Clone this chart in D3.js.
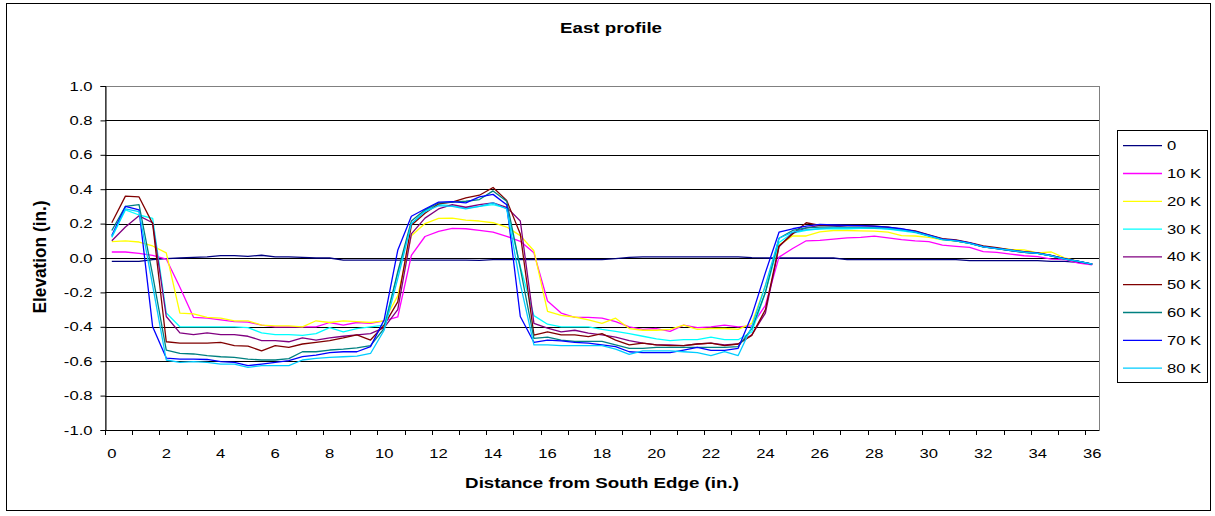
<!DOCTYPE html>
<html>
<head>
<meta charset="utf-8">
<script src="https://cdn.jsdelivr.net/npm/d3@7"></script>
<style>
  html, body { margin: 0; padding: 0; background: #fff; }
  svg { display: block; font-family: "Liberation Sans", Arial, sans-serif; }
</style>
</head>
<body>
<svg id="chart" width="1215" height="516"></svg>
<script>
// Distance from the south edge, in inches (category axis, half-inch steps)
const distances = [
  0, 0.5, 1, 1.5, 2, 2.5, 3, 3.5, 4, 4.5, 5, 5.5, 6, 6.5, 7, 7.5, 8, 8.5, 9, 9.5,
  10, 10.5, 11, 11.5, 12, 12.5, 13, 13.5, 14, 14.5, 15, 15.5, 16, 16.5, 17, 17.5,
  18, 18.5, 19, 19.5, 20, 20.5, 21, 21.5, 22, 22.5, 23, 23.5, 24, 24.5, 25, 25.5,
  26, 26.5, 27, 27.5, 28, 28.5, 29, 29.5, 30, 30.5, 31, 31.5, 32, 32.5, 33, 33.5,
  34, 34.5, 35, 35.5, 36
];

const seriesNames = ["0", "10 K", "20 K", "30 K", "40 K", "50 K", "60 K", "70 K", "80 K"];
const seriesColors = ["#000080", "#FF00FF", "#FFFF00", "#00FFFF", "#800080", "#800000", "#008080", "#0000FF", "#00CCFF"];

const yTicks = [-1.0, -0.8, -0.6, -0.4, -0.2, 0.0, 0.2, 0.4, 0.6, 0.8, 1.0];
const xTickLabels = ["0", "2", "4", "6", "8", "10", "12", "14", "16", "18", "20", "22", "24", "26", "28", "30", "32", "34", "36"];

// Elevation (in.) per load step
const elev0 = [
  -0.02, -0.02, -0.02, -0.01, -0.004, 0.0, 0.004, 0.006, 0.014, 0.014,
  0.01, 0.016, 0.006, 0.006, 0.004, 0.0, 0.0, -0.012, -0.012, -0.012,
  -0.012, -0.012, -0.012, -0.012, -0.012, -0.012, -0.012, -0.014, -0.01, -0.01,
  -0.01, -0.01, -0.01, -0.01, -0.01, -0.01, -0.01, -0.004, 0.004, 0.006,
  0.006, 0.006, 0.006, 0.006, 0.006, 0.006, 0.006, 0.002, 0.0, 0.0,
  0.0, 0.0, 0.0, 0.0, -0.01, -0.01, -0.01, -0.01, -0.01, -0.01,
  -0.01, -0.01, -0.01, -0.015, -0.015, -0.015, -0.015, -0.015, -0.015, -0.02,
  -0.02, -0.025, -0.035
];
const elev10K = [
  0.035, 0.035, 0.027, 0.015, -0.006, -0.17, -0.345, -0.35, -0.36, -0.37,
  -0.373, -0.39, -0.40, -0.40, -0.40, -0.40, -0.375, -0.39, -0.375, -0.38,
  -0.365, -0.343, 0.015, 0.125, 0.155, 0.172, 0.17, 0.16, 0.15, 0.126,
  0.097, 0.03, -0.25, -0.32, -0.345, -0.345, -0.35, -0.37, -0.40, -0.415,
  -0.41, -0.427, -0.39, -0.405, -0.40, -0.39, -0.40, -0.395, -0.275, 0.005,
  0.055, 0.10, 0.103, 0.11, 0.117, 0.12, 0.127, 0.117, 0.107, 0.10,
  0.095, 0.075, 0.068, 0.062, 0.037, 0.033, 0.023, 0.013, 0.008, -0.006,
  -0.01, -0.03, -0.04
];
const elev20K = [
  0.095, 0.10, 0.093, 0.07, 0.03, -0.32, -0.325, -0.345, -0.35, -0.365,
  -0.365, -0.39, -0.395, -0.395, -0.40, -0.365, -0.375, -0.365, -0.37, -0.375,
  -0.365, -0.22, 0.13, 0.20, 0.23, 0.232, 0.22, 0.215, 0.205, 0.18,
  0.13, 0.042, -0.31, -0.333, -0.343, -0.36, -0.38, -0.35, -0.41, -0.42,
  -0.42, -0.415, -0.39, -0.415, -0.41, -0.41, -0.415, -0.38, -0.16, 0.075,
  0.128, 0.128, 0.152, 0.16, 0.16, 0.158, 0.156, 0.15, 0.13, 0.128,
  0.12, 0.105, 0.098, 0.085, 0.068, 0.058, 0.05, 0.047, 0.03, 0.035,
  0.0, -0.02, -0.035
];
const elev30K = [
  0.12, 0.28, 0.25, 0.23, -0.32, -0.40, -0.40, -0.40, -0.40, -0.40,
  -0.405, -0.435, -0.445, -0.445, -0.45, -0.44, -0.405, -0.43, -0.41, -0.40,
  -0.39, -0.09, 0.195, 0.275, 0.31, 0.305, 0.29, 0.30, 0.31, 0.29,
  -0.05, -0.335, -0.385, -0.40, -0.40, -0.40, -0.415, -0.427, -0.44, -0.455,
  -0.47, -0.48, -0.475, -0.475, -0.46, -0.475, -0.475, -0.43, -0.2, 0.09,
  0.145, 0.16, 0.17, 0.17, 0.17, 0.172, 0.172, 0.168, 0.158, 0.148,
  0.127, 0.107, 0.1, 0.085, 0.065, 0.055, 0.045, 0.033, 0.027, 0.013,
  -0.006, -0.02, -0.035
];
const elev40K = [
  0.10, 0.18, 0.245, 0.205, -0.34, -0.435, -0.445, -0.435, -0.445, -0.445,
  -0.455, -0.48, -0.48, -0.487, -0.465, -0.477, -0.465, -0.455, -0.447, -0.44,
  -0.405, -0.30, 0.14, 0.232, 0.285, 0.31, 0.295, 0.31, 0.32, 0.295,
  0.215, -0.38, -0.408, -0.43, -0.42, -0.437, -0.447, -0.46, -0.48, -0.495,
  -0.505, -0.505, -0.51, -0.50, -0.495, -0.505, -0.50, -0.447, -0.32, 0.065,
  0.145, 0.175, 0.19, 0.185, 0.18, 0.18, 0.178, 0.175, 0.165, 0.152,
  0.13, 0.11, 0.1, 0.087, 0.065, 0.055, 0.043, 0.033, 0.027, 0.013,
  -0.006, -0.022, -0.035
];
const elev50K = [
  0.205, 0.36, 0.355, 0.20, -0.487, -0.495, -0.495, -0.495, -0.49, -0.51,
  -0.512, -0.54, -0.51, -0.52, -0.50, -0.49, -0.48, -0.465, -0.447, -0.477,
  -0.39, -0.255, 0.19, 0.26, 0.315, 0.325, 0.35, 0.365, 0.41, 0.335,
  0.14, -0.448, -0.43, -0.447, -0.447, -0.457, -0.44, -0.477, -0.505, -0.495,
  -0.505, -0.51, -0.51, -0.50, -0.495, -0.51, -0.50, -0.45, -0.30, 0.07,
  0.14, 0.205, 0.19, 0.19, 0.19, 0.19, 0.185, 0.18, 0.168, 0.158,
  0.135, 0.112, 0.105, 0.09, 0.07, 0.06, 0.047, 0.037, 0.03, 0.015,
  -0.005, -0.02, -0.035
];
const elev60K = [
  0.16, 0.30, 0.31, -0.10, -0.535, -0.555, -0.558, -0.568, -0.574, -0.578,
  -0.588, -0.593, -0.593, -0.585, -0.545, -0.545, -0.535, -0.53, -0.522, -0.51,
  -0.41, -0.08, 0.215, 0.28, 0.32, 0.325, 0.33, 0.34, 0.39, 0.33,
  -0.06, -0.467, -0.46, -0.477, -0.485, -0.485, -0.485, -0.505, -0.525, -0.525,
  -0.52, -0.52, -0.52, -0.52, -0.52, -0.52, -0.515, -0.41, -0.2, 0.115,
  0.16, 0.175, 0.18, 0.18, 0.178, 0.178, 0.175, 0.172, 0.165, 0.152,
  0.13, 0.108, 0.1, 0.085, 0.065, 0.055, 0.043, 0.033, 0.027, 0.013,
  -0.006, -0.02, -0.035
];
const elev70K = [
  0.13, 0.30, 0.28, -0.40, -0.582, -0.588, -0.588, -0.59, -0.603, -0.607,
  -0.626, -0.617, -0.607, -0.597, -0.574, -0.565, -0.55, -0.545, -0.545, -0.515,
  -0.36, 0.045, 0.243, 0.285, 0.325, 0.328, 0.32, 0.355, 0.37, 0.31,
  -0.34, -0.49, -0.477, -0.482, -0.49, -0.495, -0.505, -0.515, -0.545, -0.55,
  -0.55, -0.55, -0.535, -0.52, -0.537, -0.537, -0.525, -0.335, -0.085, 0.15,
  0.17, 0.185, 0.195, 0.192, 0.19, 0.188, 0.185, 0.18, 0.17, 0.155,
  0.133, 0.11, 0.103, 0.088, 0.066, 0.056, 0.045, 0.035, 0.028, 0.014,
  -0.004, -0.02, -0.035
];
const elev80K = [
  0.125, 0.285, 0.27, -0.16, -0.593, -0.607, -0.603, -0.607, -0.617, -0.617,
  -0.636, -0.626, -0.626, -0.626, -0.593, -0.584, -0.578, -0.574, -0.57, -0.555,
  -0.42, -0.12, 0.2, 0.27, 0.305, 0.30, 0.285, 0.30, 0.32, 0.285,
  -0.15, -0.505, -0.505, -0.51, -0.51, -0.51, -0.51, -0.53, -0.56, -0.54,
  -0.54, -0.54, -0.545, -0.55, -0.567, -0.545, -0.567, -0.4, -0.16, 0.115,
  0.15, 0.165, 0.17, 0.175, 0.175, 0.175, 0.175, 0.17, 0.162, 0.15,
  0.128, 0.107, 0.1, 0.085, 0.065, 0.055, 0.045, 0.034, 0.027, 0.013,
  -0.006, -0.02, -0.035
];

const seriesValues = [elev0, elev10K, elev20K, elev30K, elev40K, elev50K, elev60K, elev70K, elev80K];

// ---- layout ----
const svg = d3.select("#chart");
const plot = { left: 105, right: 1099, top: 86, bottom: 430 };
const TX = 1.28; // horizontal text stretch

const x = d3.scaleBand().domain(distances).range([plot.left, plot.right]).padding(0);
const y = d3.scaleLinear().domain([-1, 1]).range([plot.bottom, plot.top]);
const xc = d => x(d) + x.bandwidth() / 2;

// chart frame
svg.append("rect")
  .attr("x", 6.5).attr("y", 3.5).attr("width", 1204).attr("height", 507)
  .attr("fill", "#fff").attr("stroke", "#000").attr("stroke-width", 1);

// plot area border
svg.append("rect")
  .attr("x", plot.left + 0.5).attr("y", plot.top + 0.5)
  .attr("width", plot.right - plot.left).attr("height", plot.bottom - plot.top)
  .attr("fill", "#fff").attr("stroke", "#808080").attr("stroke-width", 1);

// horizontal gridlines
svg.append("g").selectAll("line")
  .data(yTicks.filter(v => v > -1 && v < 1))
  .join("line")
  .attr("x1", plot.left).attr("x2", plot.right)
  .attr("y1", d => Math.round(y(d)) + 0.5).attr("y2", d => Math.round(y(d)) + 0.5)
  .attr("stroke", "#000").attr("stroke-width", 1);

// y axis
const yAxis = svg.append("g")
  .attr("transform", `translate(${plot.left + 0.5},0)`)
  .call(d3.axisLeft(y).tickValues(yTicks).tickSize(5).tickPadding(8).tickFormat(d => d.toFixed(1)));
yAxis.select(".domain").attr("stroke", "#000");
yAxis.selectAll(".tick line").attr("stroke", "#000");
yAxis.selectAll("text")
  .attr("font-size", 13).attr("fill", "#000")
  .attr("x", -13 / TX)
  .attr("transform", `scale(${TX},1)`);
yAxis.attr("font-family", null);

// x axis: labels every 2 in., ticks between categories every 1 in.
const labelCats = distances.filter(d => d % 2 === 0);
const xAxis = svg.append("g")
  .attr("transform", `translate(0,${plot.bottom + 0.5})`)
  .call(d3.axisBottom(x).tickValues(labelCats).tickSize(0).tickPadding(18)
    .tickFormat((d, i) => xTickLabels[i]));
xAxis.select(".domain").remove();
xAxis.selectAll("text").attr("font-size", 13).attr("fill", "#000")
  .attr("transform", `scale(${TX},1)`);
xAxis.attr("font-family", null);

svg.append("line")
  .attr("x1", plot.left).attr("x2", plot.right)
  .attr("y1", plot.bottom + 0.5).attr("y2", plot.bottom + 0.5)
  .attr("stroke", "#000");

const tickCats = distances.filter(d => d % 1 === 0);
svg.append("g").selectAll("line")
  .data(tickCats)
  .join("line")
  .attr("x1", d => Math.round(x(d)) + 0.5).attr("x2", d => Math.round(x(d)) + 0.5)
  .attr("y1", plot.bottom).attr("y2", plot.bottom + 5)
  .attr("stroke", "#000");

// series lines
const line = d3.line().x((d, i) => xc(distances[i])).y(d => y(d));
svg.append("g").selectAll("path")
  .data(seriesValues)
  .join("path")
  .attr("d", d => line(d))
  .attr("fill", "none")
  .attr("stroke", (d, i) => seriesColors[i])
  .attr("stroke-width", 1.3)
  .attr("stroke-linejoin", "round");

// titles
svg.append("text")
  .attr("transform", `translate(611,33) scale(1.25,1)`)
  .attr("text-anchor", "middle").attr("font-size", 15).attr("font-weight", "bold")
  .text("East profile");

svg.append("text")
  .attr("transform", `translate(602,488) scale(1.25,1)`)
  .attr("text-anchor", "middle").attr("font-size", 15).attr("font-weight", "bold")
  .text("Distance from South Edge (in.)");

svg.append("text")
  .attr("transform", `translate(46,257) rotate(-90) scale(1.15,1.25)`)
  .attr("text-anchor", "middle").attr("font-size", 15).attr("font-weight", "bold")
  .text("Elevation (in.)");

// legend
const legend = svg.append("g");
legend.append("rect")
  .attr("x", 1117.5).attr("y", 130.5).attr("width", 90).attr("height", 252)
  .attr("fill", "#fff").attr("stroke", "#000");
const items = legend.selectAll("g.item")
  .data(seriesNames)
  .join("g")
  .attr("class", "item")
  .attr("transform", (d, i) => `translate(0,${145.7 + i * 27.8})`);
items.append("line")
  .attr("x1", 1123).attr("x2", 1162).attr("y1", 0).attr("y2", 0)
  .attr("stroke", (d, i) => seriesColors[i]).attr("stroke-width", 1.3);
items.append("text")
  .attr("transform", `translate(1167,4.5) scale(${TX},1)`)
  .attr("font-size", 13)
  .text(d => d);
</script>
</body>
</html>
